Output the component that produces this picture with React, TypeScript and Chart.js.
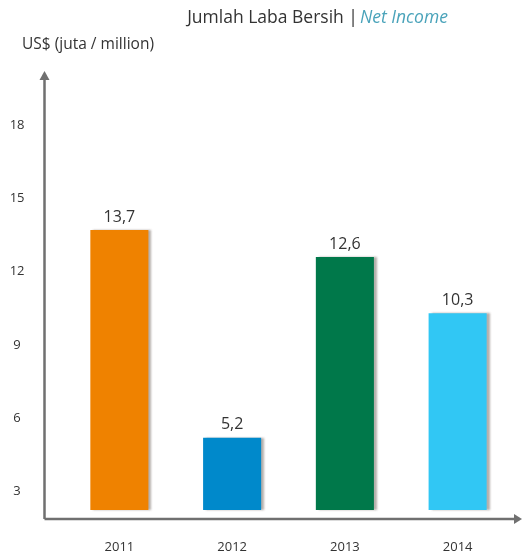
import React, { useEffect, useRef } from "react";
import { Chart, registerables } from "chart.js";

Chart.register(...registerables);

const CATEGORIES = ["2011", "2012", "2013", "2014"];
const VALUES = [13.7, 5.2, 12.6, 10.3];
const COLORS = ["#EF8200", "#0089CB", "#00784A", "#31C7F4"];
const Y_TICKS = [3, 6, 9, 12, 15, 18];
const BAR_BASE = 2.25;
const Y_MIN = 1.88;
const Y_MAX = 19.92;
const TITLE_MAIN = "Jumlah Laba Bersih ";
const TITLE_SEP = "|";
const TITLE_EN = "Net Income";
const UNIT_LABEL = "US$ (juta / million)";
const FONT = "'Open Sans', sans-serif";

const decorPlugin = {
  id: "decor",
  beforeDatasetsDraw(chart: any) {
    const ctx = chart.ctx;
    ctx.save();
    ctx.shadowColor = "rgba(90,80,70,0.45)";
    ctx.shadowOffsetX = 3;
    ctx.shadowOffsetY = 0;
    ctx.shadowBlur = 2;
  },
  afterDatasetsDraw(chart: any) {
    const ctx = chart.ctx;
    ctx.restore();
    const meta = chart.getDatasetMeta(0);
    ctx.save();
    ctx.font = `16px ${FONT}`;
    ctx.fillStyle = "#333333";
    ctx.textAlign = "center";
    ctx.textBaseline = "bottom";
    meta.data.forEach((bar: any, i: number) => {
      const v = VALUES[i];
      ctx.fillText(v.toFixed(1).replace(".", ","), bar.x, bar.y - 5);
    });
    ctx.restore();
  },
  afterDraw(chart: any) {
    const ctx = chart.ctx;
    const { left, top, bottom } = chart.chartArea;
    const ax = left - 18.5;
    const ay = bottom;
    ctx.save();
    ctx.strokeStyle = "#707070";
    ctx.fillStyle = "#707070";
    ctx.lineWidth = 2.5;
    ctx.beginPath();
    ctx.moveTo(ax, ay);
    ctx.lineTo(ax, top + 2);
    ctx.moveTo(ax, ay);
    ctx.lineTo(chart.width - 8, ay);
    ctx.stroke();
    ctx.beginPath();
    ctx.moveTo(ax - 5, top + 2);
    ctx.lineTo(ax + 5, top + 2);
    ctx.lineTo(ax, top - 7);
    ctx.closePath();
    ctx.fill();
    ctx.beginPath();
    ctx.moveTo(chart.width - 9, ay - 5);
    ctx.lineTo(chart.width - 9, ay + 5);
    ctx.lineTo(chart.width - 1, ay);
    ctx.closePath();
    ctx.fill();

    // title
    ctx.textBaseline = "middle";
    ctx.font = `17.5px ${FONT}`;
    const w1 = ctx.measureText(TITLE_MAIN).width;
    const w2 = ctx.measureText(TITLE_SEP).width;
    ctx.font = `italic 17.5px ${FONT}`;
    const w3 = ctx.measureText(TITLE_EN).width;
    const total = w1 + w2 + 2 + w3;
    let x = 317.5 - total / 2;
    ctx.textAlign = "left";
    ctx.fillStyle = "#333333";
    ctx.font = `17.5px ${FONT}`;
    ctx.fillText(TITLE_MAIN, x, 18);
    x += w1;
    ctx.fillText(TITLE_SEP, x, 18);
    x += w2 + 2;
    ctx.font = `italic 17.5px ${FONT}`;
    ctx.fillStyle = "#4AA3BA";
    ctx.fillText(TITLE_EN, x, 18);

    // unit label
    ctx.font = `15.5px ${FONT}`;
    ctx.fillStyle = "#333333";
    ctx.fillText(UNIT_LABEL, 22, 45);
    ctx.restore();
  },
};

export default function App() {
  const canvasRef = useRef<HTMLCanvasElement | null>(null);

  useEffect(() => {
    if (!canvasRef.current) return;
    const chart = new Chart(canvasRef.current, {
      type: "bar",
      data: {
        labels: CATEGORIES,
        datasets: [
          {
            data: VALUES.map((v) => [BAR_BASE, v]) as any,
            backgroundColor: COLORS,
            borderWidth: 0,
            categoryPercentage: 1,
            barPercentage: 0.515,
          },
        ],
      },
      options: {
        animation: false,
        responsive: false,
        layout: { padding: { top: 78, right: 9, left: 0, bottom: 0 } },
        plugins: {
          legend: { display: false },
          tooltip: { enabled: false },
          title: { display: false },
        },
        scales: {
          x: {
            grid: { display: false, drawTicks: false },
            border: { display: false },
            ticks: {
              color: "#333333",
              font: { family: FONT, size: 13 },
              padding: 20,
              maxRotation: 0,
            },
            afterFit: (s: any) => {
              s.height = 40;
            },
          },
          y: {
            min: Y_MIN,
            max: Y_MAX,
            grid: { display: false, drawTicks: false },
            border: { display: false },
            ticks: {
              color: "#333333",
              font: { family: FONT, size: 13 },
              padding: 38.5,
              crossAlign: "center",
            },
            afterBuildTicks: (s: any) => {
              s.ticks = Y_TICKS.map((v) => ({ value: v }));
            },
            afterFit: (s: any) => {
              s.width = 63;
              s.paddingTop = 0;
              s.paddingBottom = 0;
            },
          },
        },
      },
      plugins: [decorPlugin],
    });
    return () => chart.destroy();
  }, []);

  return (
    <div style={{ position: "absolute", left: 0, top: 0, width: 523, height: 559 }}>
      <canvas ref={canvasRef} width={523} height={559} style={{ display: "block" }} />
    </div>
  );
}
